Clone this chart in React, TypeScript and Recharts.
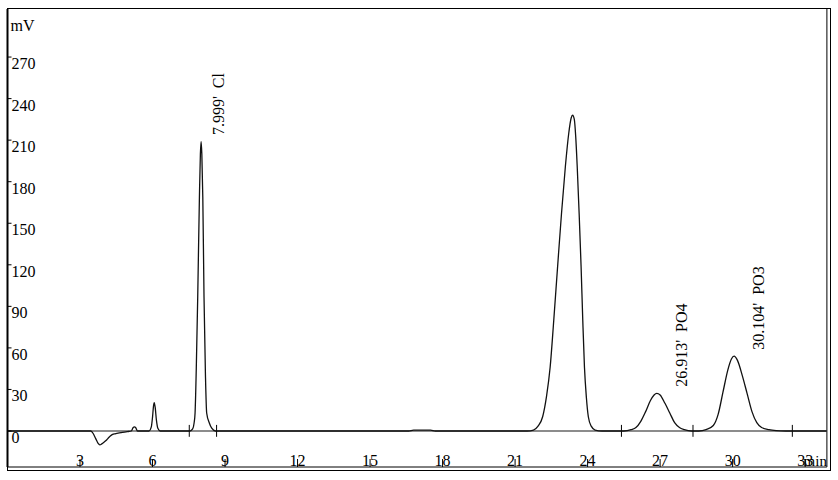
import React from 'react';
import { LineChart, Line, XAxis, YAxis, ReferenceLine, ReferenceDot } from 'recharts';

// retention time (min) and detector signal (mV)
const times = [
  0, 3.45, 3.55, 3.65, 3.75, 3.82, 3.9, 4.0, 4.1, 4.2, 4.3, 4.45, 4.7, 4.95,
  5.12, 5.2, 5.25, 5.3, 5.38,
  5.85, 5.95, 6.0, 6.04, 6.07, 6.11, 6.16, 6.22, 6.32,
  7.55, 7.66, 7.72, 7.76, 7.81, 7.87, 7.94, 7.98, 8.01, 8.04, 8.08, 8.13, 8.19, 8.24, 8.35, 8.45, 8.6,
  16.6, 16.8, 17.5, 17.7,
  21.5, 21.76, 21.95, 22.14, 22.3, 22.45, 22.6, 22.76, 22.92, 23.08, 23.22, 23.32, 23.38,
  23.45, 23.51, 23.57, 23.65, 23.73, 23.8, 23.87, 23.95, 24.03, 24.15, 24.31, 24.6,
  25.5, 25.8, 26.0, 26.2, 26.4, 26.6, 26.75, 26.86, 27.0, 27.2, 27.4, 27.6, 27.8, 28.0, 28.3,
  28.6, 28.9, 29.2, 29.4, 29.6, 29.8, 29.95, 30.06, 30.2, 30.4, 30.6, 30.8, 31.0, 31.2, 31.5, 31.8, 32.2,
  33.9,
];
const signal = [
  0, 0, -2, -5.5, -9, -10, -9.3, -8, -6.5, -4.5, -3, -2, -1.2, -0.5,
  0, 2.5, 3, 2.5, 0,
  0, 3, 10, 18, 20.5, 17, 8, 2, 0,
  0, 1.5, 5.8, 13, 45, 97, 169, 200, 209, 200, 169, 97, 40, 13, 5.8, 2, 0,
  0, 0.6, 0.6, 0,
  0, 0.7, 3.5, 10.3, 25, 46, 80, 119, 157, 191, 215, 226, 228,
  225, 212, 191, 157, 119, 80, 46, 24, 10.3, 3.5, 0.7, 0,
  0, 1, 2.5, 7, 14, 22, 26, 27.2, 26, 20, 13, 6, 2.5, 1, 0,
  0, 1, 4, 12, 28, 44, 52, 54, 51, 40, 27, 14, 6, 2.5, 1, 0.3, 0,
  0,
];

const xTicks = [3, 6, 9, 12, 15, 18, 21, 24, 27, 30, 33];
const yTicks = [0, 30, 60, 90, 120, 150, 180, 210, 240, 270];

// integration marks on the baseline
const peakMarks = [7.52, 8.65, 25.4, 28.36, 32.47];

const peakTimes = [7.999, 26.913, 30.104];
const peakHeights = [209, 27.2, 54];
const peakNames = ['Cl', 'PO4', 'PO3'];

const data = times.map((t, i) => ({ t, mv: signal[i] }));

const serif = '"Liberation Serif", "Times New Roman", serif';

const XTick = (props: any) => {
  const { x, y, payload } = props;
  return (
    <g>
      <line x1={x} x2={x} y1={y} y2={y - 8} stroke="#000" strokeWidth={1} />
      <text x={x} y={y - 1} textAnchor="middle" fontSize={16} fontFamily={serif} fill="#000">
        {payload.value}
      </text>
    </g>
  );
};

const YTick = (props: any) => {
  const { x, y, payload } = props;
  return (
    <g>
      <line x1={x} x2={x + 4} y1={y} y2={y} stroke="#000" strokeWidth={1} />
      <text x={x + 4} y={y + 12} textAnchor="start" fontSize={16} fontFamily={serif} fill="#000">
        {payload.value}
      </text>
    </g>
  );
};

const labelDx = [23, 29, 29];

export default function App() {
  return (
    <div style={{ position: 'absolute', left: 0, top: 0, width: 838, height: 480 }}>
      <LineChart
        width={838}
        height={480}
        data={data}
        margin={{ top: 9, right: 11.1, left: 0, bottom: 12 }}
      >
        <XAxis
          type="number"
          dataKey="t"
          domain={[0, 33.9]}
          allowDataOverflow
          ticks={xTicks}
          interval={0}
          height={1}
          tickSize={0}
          tickMargin={0}
          tick={<XTick />}
          axisLine={{ stroke: '#000', strokeWidth: 1 }}
        />
        <YAxis
          type="number"
          domain={[-26, 304.7]}
          allowDataOverflow
          ticks={yTicks}
          interval={0}
          width={7.5}
          tickSize={0}
          tickMargin={0}
          tick={<YTick />}
          axisLine={{ stroke: '#000', strokeWidth: 2 }}
        />
        <ReferenceLine x={33.9} stroke="#000" strokeWidth={1} />
        <ReferenceLine y={0} stroke="#666" strokeWidth={1.5} />
        {peakMarks.map((m) => (
          <ReferenceLine
            key={m}
            segment={[{ x: m, y: -4.2 }, { x: m, y: 4.4 }]}
            stroke="#000"
            strokeWidth={1}
          />
        ))}
        <Line
          type="monotone"
          dataKey="mv"
          stroke="#111"
          strokeWidth={1.3}
          dot={false}
          isAnimationActive={false}
        />
        {peakTimes.map((rt, i) => (
          <ReferenceDot
            key={rt}
            x={rt}
            y={peakHeights[i]}
            r={0}
            shape={(p: any) => {
              const cx = p.cx + labelDx[i];
              const cy = p.cy - 6.5;
              return (
                <text
                  x={cx}
                  y={cy}
                  transform={`rotate(-90, ${cx}, ${cy})`}
                  fontSize={16}
                  fontFamily={serif}
                  fill="#000"
                  style={{ whiteSpace: 'pre' }}
                >
                  {`${rt.toFixed(3)}'  ${peakNames[i]}`}
                </text>
              );
            }}
          />
        ))}
        <ReferenceDot
          x={0}
          y={304.7}
          r={0}
          shape={(p: any) => (
            <text x={p.cx + 3} y={p.cy + 22} fontSize={16} fontFamily={serif} fill="#000">
              mV
            </text>
          )}
        />
        <ReferenceDot
          x={33.9}
          y={-26}
          r={0}
          shape={(p: any) => (
            <text x={p.cx} y={p.cy - 1} textAnchor="end" fontSize={15} fontFamily={serif} fill="#000">
              min
            </text>
          )}
        />
      </LineChart>
      <div
        style={{
          position: 'absolute',
          left: 7,
          top: 8,
          width: 824,
          height: 463,
          boxSizing: 'border-box',
          borderTop: '1.5px solid #000',
          borderLeft: '1px solid #000',
          borderRight: '1px solid #000',
          borderBottom: '1px solid #000',
          pointerEvents: 'none',
        }}
      />
    </div>
  );
}
